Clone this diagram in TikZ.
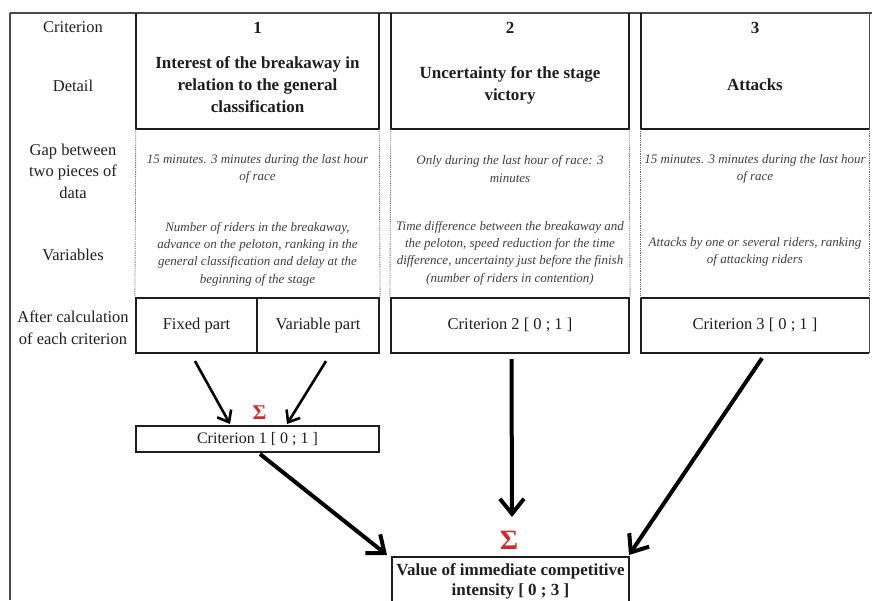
\documentclass[tikz,border=0pt]{standalone}
\usepackage{fontspec}
\setmainfont{Liberation Serif}
\usetikzlibrary{arrows.meta}
\definecolor{ink}{HTML}{1E1E1E}
\definecolor{sigred}{HTML}{D42A2A}
\definecolor{framegray}{HTML}{4A4A4A}
\definecolor{dotgray}{HTML}{6A6A6A}

\begin{document}
\begin{tikzpicture}[x=1pt,y=-1pt,
  lbl/.style={font=\fontsize{16.5}{21.5}\selectfont, align=center, text=ink, inner sep=0pt},
  numtxt/.style={font=\fontsize{17}{22}\selectfont\bfseries, text=ink, inner sep=0pt},
  dettxt/.style={font=\fontsize{17}{22}\selectfont\bfseries, align=center, text=ink, inner sep=0pt},
  itxt/.style={font=\fontsize{13}{17.3}\selectfont\itshape, align=center, text=ink!85, inner sep=0pt},
  hbox/.style={minimum height=116pt, inner sep=0pt},
  cell/.style={draw=ink, line width=2.2pt, minimum height=55pt, inner sep=0pt,
    font=\fontsize{16.5}{20}\selectfont, text=ink},
  thickln/.style={draw=ink, line width=2.4pt},
  thinln/.style={draw=framegray, line width=1.2pt},
  dotln/.style={draw=dotgray, line width=0.9pt, dash pattern=on 0.9pt off 0.9pt},
  sumbox/.style={draw=ink, line width=2pt, inner sep=0pt, text=ink},
  sigma/.style={text=sigred, inner sep=0pt, font=\bfseries},
  arr/.style={draw=black, line width=2.6pt, -{Straight Barb[length=10pt,width=16pt]}},
  bigarr/.style={draw=black, line width=4pt, -{Straight Barb[length=15pt,width=24pt]}}
]
\useasboundingbox (0,0) rectangle (872,600);
\clip (0,0) rectangle (872,600);

% outer frame
\draw[thinln, line width=1.6pt] (10,13) -- (872,13);
\draw[thinln] (10,13) -- (10,600);

% row labels
\node[lbl] (rCrit) at (73,27) {Criterion};
\node[lbl] (rDet) at (73,86) {Detail};
\node[lbl] (rGap) at (73,171) {Gap between\\two pieces of\\data};
\node[lbl] (rVar) at (73,255) {Variables};
\node[lbl] (rAft) at (73,328) {After calculation\\of each criterion};

% header boxes of the three criteria
\node[hbox, minimum width=243pt] (h1) at (257.5,71) {};
\node[hbox, minimum width=238pt] (h2) at (510,71) {};
\node[hbox, minimum width=228pt] (h3) at (755,71) {};
\draw[thickln] (h1.north west) -- (h1.south west) -- (h1.south east) -- (h1.north east);
\draw[thickln] (h2.north west) -- (h2.south west) -- (h2.south east) -- (h2.north east);
\draw[thickln] (h3.north west) -- (h3.south west) -- (h3.south east);
\draw[thinln] (h3.south east) -- (h3.north east);

\node[numtxt] (n1) at (257.5,28) {1};
\node[numtxt] (n2) at (510,28) {2};
\node[numtxt] (n3) at (755,28) {3};
\node[dettxt] (d1) at (257.5,85) {Interest of the breakaway in\\relation to the general\\classification};
\node[dettxt] (d2) at (510,85) {Uncertainty for the stage\\victory};
\node[dettxt] (d3) at (755,85) {Attacks};

% results after calculation
\node[cell, minimum width=121pt] (fix) at (196.5,325.5) {Fixed part};
\node[cell, minimum width=122pt] (var) at (318,325.5) {Variable part};
\node[cell, minimum width=238pt] (c2) at (510,325.5) {Criterion 2 [ 0 ; 1 ]};
\node[minimum height=55pt, minimum width=228pt, inner sep=0pt,
  font=\fontsize{16.5}{20}\selectfont, text=ink] (c3) at (755,325.5) {Criterion 3 [ 0 ; 1 ]};
\draw[thickln, line width=2.2pt] (c3.north east) -- (c3.north west) -- (c3.south west) -- (c3.south east);
\draw[thinln] (c3.north east) -- (c3.south east);

% dotted separators of the data rows
\draw[dotln] (h1.south west) -- (fix.north west);
\draw[dotln] (h1.south east) -- (var.north east);
\draw[dotln] (h2.south west) -- (c2.north west);
\draw[dotln] (h2.south east) -- (c2.north east);
\draw[dotln] (h3.south west) -- (c3.north west);
\draw[dotln] (h3.south east) -- (c3.north east);

% data gap and variables
\node[itxt] (g1) at (257.5,169) {15 minutes. 3 minutes during the last hour\\of race};
\node[itxt] (g2) at (510,169) {Only during the last hour of race: 3\\minutes};
\node[itxt] (g3) at (755,169) {15 minutes. 3 minutes during the last hour\\of race};
\node[itxt] (v1) at (257.5,254) {Number of riders in the breakaway,\\advance on the peloton, ranking in the\\general classification and delay at the\\beginning of the stage};
\node[itxt] (v2) at (510,253) {Time difference between the breakaway and\\the peloton, speed reduction for the time\\difference, uncertainty just before the finish\\(number of riders in contention)};
\node[itxt] (v3) at (755,252) {Attacks by one or several riders, ranking\\of attacking riders};

% criterion 1 sum
\node[sumbox, minimum width=243pt, minimum height=26pt,
  font=\fontsize{16}{20}\selectfont] (k1) at (257.5,439) {Criterion 1 [ 0 ; 1 ]};
\node[sigma, font=\fontsize{21}{22}\selectfont\bfseries] (s1) at (259.5,413) {Σ};
\draw[arr] ([xshift=-1.5pt,yshift=-7pt]fix.south) -- ([xshift=-27.5pt,yshift=1pt]k1.north);
\draw[arr] ([xshift=8pt,yshift=-7pt]var.south) -- ([xshift=29.5pt,yshift=1pt]k1.north);

% overall value
\node[sumbox, anchor=north, minimum width=237pt, minimum height=48pt, align=center,
  font=\fontsize{17}{20}\selectfont\bfseries] (tot) at (510.5,556) {Value of immediate competitive\\intensity [ 0 ; 3 ]};
\node[sigma, font=\fontsize{28}{30}\selectfont\bfseries] (s2) at (509,540) {Σ};
\draw[bigarr] ([xshift=1.5pt,yshift=-5pt]c2.south) -- ([xshift=1.5pt,yshift=39pt]tot.north);
\draw[bigarr] ([xshift=2.5pt,yshift=-1pt]k1.south) -- ([xshift=-4pt,yshift=1pt]tot.north west);
\draw[bigarr] ([xshift=7pt,yshift=-5pt]c3.south) -- ([xshift=-1pt,yshift=1pt]tot.north east);
\end{tikzpicture}
\end{document}
